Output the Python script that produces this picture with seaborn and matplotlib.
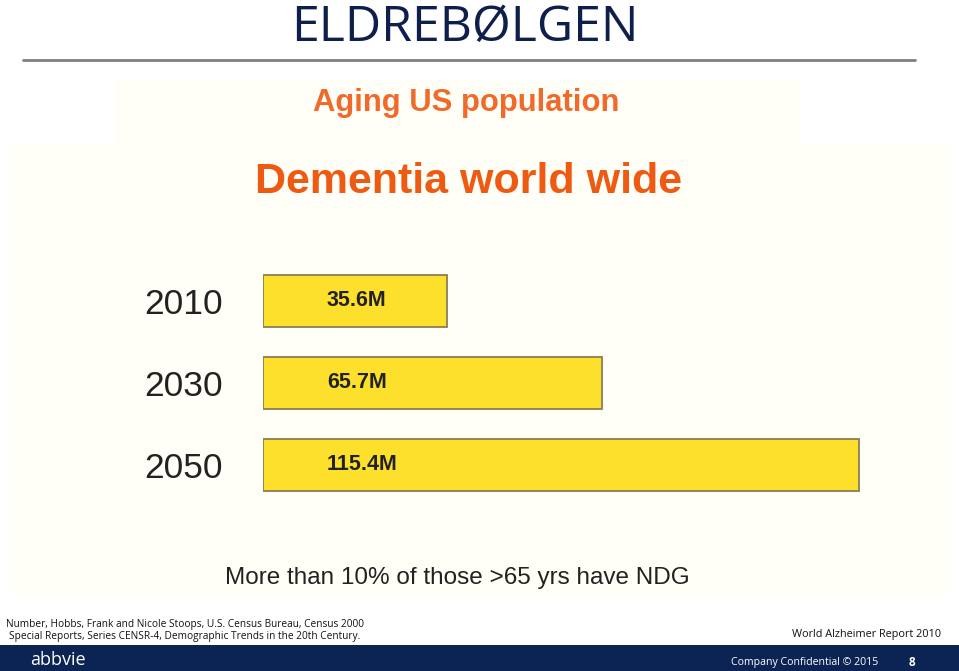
import matplotlib
matplotlib.use("Agg")
import matplotlib.pyplot as plt
from matplotlib.patches import Rectangle
from matplotlib.lines import Line2D
import seaborn as sns

# ---- data ----
years = ["2010", "2030", "2050"]
values = [35.6, 65.7, 115.4]
value_labels = ["35.6M", "65.7M", "115.4M"]

title = "ELDREBØLGEN"
subtitle1 = "Aging US population"
subtitle2 = "Dementia world wide"
note = "More than 10% of those >65 yrs have NDG"
source_left = ["Number, Hobbs, Frank and Nicole Stoops, U.S. Census Bureau, Census 2000",
               "Special Reports, Series CENSR-4, Demographic Trends in the 20th Century."]
source_right = "World Alzheimer Report 2010"
footer_left = "abbvie"
footer_right = "Company Confidential © 2015"
page_no = "8"

sns.set_theme(style="white")
plt.rcParams['font.family'] = ['Liberation Sans', 'DejaVu Sans']

W, H = 959, 671
fig = plt.figure(figsize=(W / 100, H / 100), dpi=100)
fig.patch.set_facecolor("white")

def fx(px):
    return px / W

def fy(py):
    return 1 - py / H

# faint cream image background
fig.patches.append(Rectangle((fx(10), fy(595)), fx(940), (595 - 145) / H,
                             transform=fig.transFigure, facecolor="#fffef7",
                             edgecolor="none", zorder=-2))
fig.patches.append(Rectangle((fx(115), fy(145)), fx(685), (145 - 80) / H,
                             transform=fig.transFigure, facecolor="#fffef7",
                             edgecolor="none", zorder=-2))

# title and rule
fig.text(fx(465), fy(28), title, ha="center", va="center", fontsize=36,
         color="#0f1f4b", family=["Open Sans", "DejaVu Sans"])
fig.add_artist(Line2D([fx(23), fx(915)], [fy(60), fy(60)], transform=fig.transFigure,
                      color="#7f7f7f", lw=2))

# subtitles
fig.text(fx(466), fy(103), subtitle1, ha="center", va="center", fontsize=22.3,
         fontweight="bold", color="#f26a2a")
fig.text(fx(469), fy(182), subtitle2, ha="center", va="center", fontsize=31,
         fontweight="bold", color="#ee5a12")

# main bar chart
ax_left, ax_right = 263, 950
ax_top, ax_bot = 260, 506
ax = fig.add_axes([fx(ax_left), fy(ax_bot), (ax_right - ax_left) / W, (ax_bot - ax_top) / H])
ax.set_facecolor("none")
ax.set_zorder(3)
sns.barplot(x=values, y=years, order=years, orient="h", color="#fde02c",
            edgecolor="#8c7d55", linewidth=1.3, width=0.63, saturation=1, ax=ax)
scale = (859 - 263) / 115.4
ax.set_xlim(0, (ax_right - ax_left) / scale)
ax.set_ylim(2.5, -0.5)
for s in ax.spines.values():
    s.set_visible(False)
ax.set_xticks([])
ax.set_xlabel("")
ax.set_ylabel("")
ax.tick_params(axis="y", length=0, pad=29, labelsize=25.5, labelcolor="#222222")
for i, lab in enumerate(value_labels):
    ax.annotate(lab, xy=(0, i), xytext=(46, 0), textcoords="offset points",
                ha="left", va="center", fontsize=15.5, fontweight="bold", color="#222222")

# note
fig.text(fx(457), fy(578), note, ha="center", va="center", fontsize=17.5, color="#222222")

# sources
src_font = ["Open Sans", "DejaVu Sans"]
fig.text(fx(185), fy(625), source_left[0], ha="center", va="center", fontsize=7.3,
         color="#111111", family=src_font)
fig.text(fx(185), fy(637), source_left[1], ha="center", va="center", fontsize=7.3,
         color="#111111", family=src_font)
fig.text(fx(941), fy(634), source_right, ha="right", va="center", fontsize=7.8,
         color="#111111", family=src_font)

# footer bar
fig.patches.append(Rectangle((0, 0), 1, (671 - 645) / H, transform=fig.transFigure,
                             facecolor="#0b2454", edgecolor="none", zorder=1))
fig.text(fx(30), fy(660), footer_left, ha="left", va="center", fontsize=13,
         color="white", family=src_font, zorder=2)
fig.text(fx(878), fy(662), footer_right, ha="right", va="center", fontsize=7.6,
         color="white", family=src_font, zorder=2)
fig.text(fx(912), fy(662), page_no, ha="center", va="center", fontsize=8.5,
         fontweight="bold", color="white", family=src_font, zorder=2)

fig.savefig("out.png", dpi=100)
